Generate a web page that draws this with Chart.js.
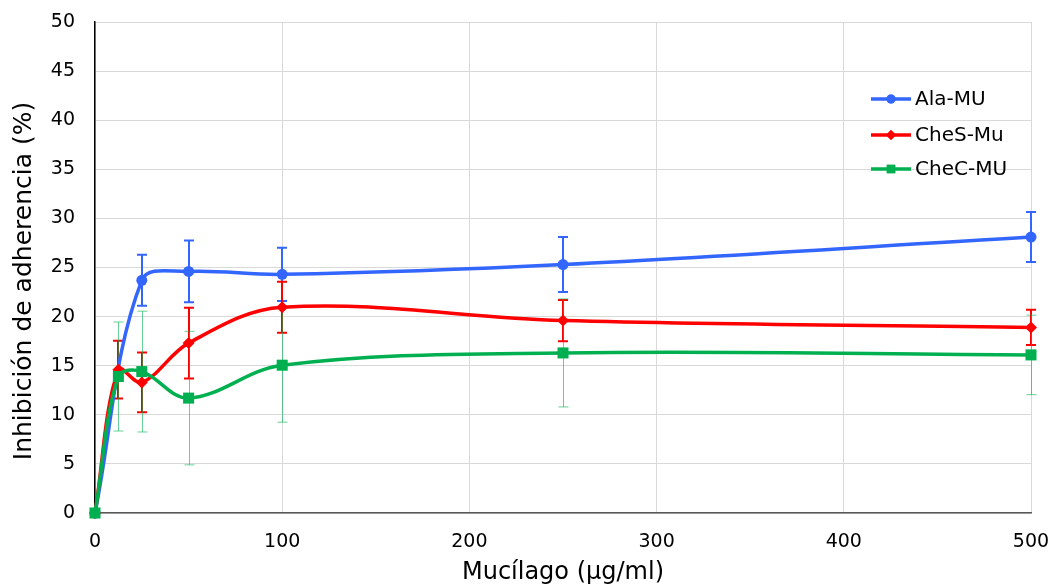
<!DOCTYPE html>
<html>
<head>
<meta charset="utf-8">
<script src="https://cdn.jsdelivr.net/npm/chart.js@4/dist/chart.umd.min.js"></script>
<style>
html,body{margin:0;padding:0;background:#fff;}
#wrap{width:1052px;height:587px;position:relative;}
</style>
</head>
<body>
<div id="wrap"><canvas id="c" width="1052" height="587"></canvas></div>
<script>
// ---- data ----
const seriesNames = ['Ala-MU', 'CheS-Mu', 'CheC-MU'];
const xAla = [0, 25, 50, 100, 250, 500];
const ala = [0, 23.7, 24.6, 24.3, 25.3, 28.1];
const alaErr = [0, 2.6, 3.15, 2.7, 2.8, 2.55];
const xChe = [0, 12.5, 25, 50, 100, 250, 500];
const ches = [0, 14.6, 13.3, 17.3, 20.95, 19.6, 18.9];
const chesErr = [0, 2.95, 3.05, 3.6, 2.6, 2.1, 1.8];
const chec = [0, 13.9, 14.4, 11.7, 15.05, 16.3, 16.1];
const checErr = [0, 5.55, 6.15, 6.8, 5.8, 5.5, 4.05];
const xTicks = [0, 100, 200, 300, 400, 500];
const yTicks = [0, 5, 10, 15, 20, 25, 30, 35, 40, 45, 50];
const xTitle = 'Mucílago (µg/ml)';
const yTitle = 'Inhibición de adherencia (%)';

const FONT = "'DejaVu Sans', Verdana, sans-serif";
const blue = '#3366FF', red = '#FF0000', green = '#00B050';

function pts(xs, ys) { return xs.map((x, i) => ({ x: x, y: ys[i] })); }

const errorBars = {
  id: 'errorBars',
  beforeDatasetsDraw(chart) {
    const ctx = chart.ctx, xs = chart.scales.x, ys = chart.scales.y;
    chart.data.datasets.forEach((ds) => {
      const e = ds.errors; if (!e) return;
      ctx.save();
      ctx.strokeStyle = ds.errColor;
      ctx.lineWidth = ds.errWidth;
      ds.data.forEach((p, i) => {
        if (!e[i]) return;
        const px = Math.round(xs.getPixelForValue(p.x)) + (ds.errWidth % 2 ? 0.5 : 0);
        const yt = ys.getPixelForValue(p.y + e[i]);
        const yb = ys.getPixelForValue(p.y - e[i]);
        const cw = 5;
        ctx.beginPath();
        ctx.moveTo(px, yt); ctx.lineTo(px, yb);
        ctx.moveTo(px - cw, yt); ctx.lineTo(px + cw, yt);
        ctx.moveTo(px - cw, yb); ctx.lineTo(px + cw, yb);
        ctx.stroke();
      });
      ctx.restore();
    });
  }
};

const yTitlePlugin = {
  id: 'yTitlePlugin',
  afterDraw(chart) {
    const ctx = chart.ctx;
    ctx.save();
    ctx.translate(24, 281);
    ctx.rotate(-Math.PI / 2);
    ctx.fillStyle = '#000';
    ctx.font = '25px ' + FONT;
    ctx.textAlign = 'center';
    ctx.textBaseline = 'middle';
    ctx.fillText(yTitle, 0, 0);
    ctx.restore();
  }
};

const customLegend = {
  id: 'customLegend',
  afterDraw(chart) {
    const ctx = chart.ctx;
    const rows = [99, 135, 169];
    chart.data.datasets.forEach((ds, i) => {
      const y = rows[i];
      ctx.save();
      ctx.strokeStyle = ds.borderColor;
      ctx.lineWidth = 3.5;
      ctx.beginPath(); ctx.moveTo(871, y); ctx.lineTo(911, y); ctx.stroke();
      ctx.fillStyle = ds.borderColor;
      Chart.helpers.drawPoint(ctx, { pointStyle: ds.pointStyle, radius: ds.legendRadius, borderWidth: 0, rotation: 0 }, 891, y);
      ctx.fill();
      ctx.fillStyle = '#000';
      ctx.font = '20px ' + FONT;
      ctx.textBaseline = 'middle';
      ctx.textAlign = 'left';
      ctx.fillText(ds.label, 915, y + 1);
      ctx.restore();
    });
  }
};

const common = { borderWidth: 3.5, tension: 0.36, clip: false, pointBorderWidth: 0 };

new Chart(document.getElementById('c'), {
  type: 'line',
  data: {
    datasets: [
      Object.assign({}, common, {
        label: seriesNames[0], data: pts(xAla, ala), errors: alaErr,
        borderColor: blue, backgroundColor: blue, pointBackgroundColor: blue,
        pointStyle: 'circle', pointRadius: 5.5, legendRadius: 4.5,
        errColor: blue, errWidth: 2, order: 3
      }),
      Object.assign({}, common, {
        label: seriesNames[1], data: pts(xChe, ches), errors: chesErr,
        borderColor: red, backgroundColor: red, pointBackgroundColor: red,
        pointStyle: 'rectRot', pointRadius: 6, legendRadius: 5,
        errColor: red, errWidth: 2, order: 2
      }),
      Object.assign({}, common, {
        label: seriesNames[2], data: pts(xChe, chec), errors: checErr,
        borderColor: green, backgroundColor: green, pointBackgroundColor: green,
        pointStyle: 'rect', pointRadius: 7.8, legendRadius: 6,
        errColor: 'rgba(0,176,80,0.6)', errWidth: 1, order: 1
      })
    ]
  },
  options: {
    responsive: false,
    animation: false,
    events: [],
    layout: { padding: { top: 22, right: 21, left: 0, bottom: 0 } },
    plugins: { legend: { display: false }, tooltip: { enabled: false } },
    scales: {
      x: {
        type: 'linear', min: 0, max: 500,
        afterFit: (s) => { s.height = 74; s.paddingLeft = 0; s.paddingRight = 0; },
        afterBuildTicks: (s) => { s.ticks = xTicks.map(v => ({ value: v })); },
        grid: { color: '#d9d9d9', lineWidth: 1, drawTicks: false },
        border: { color: '#595959', width: 1.5 },
        ticks: { color: '#000', font: { family: FONT, size: 19 }, padding: 18 },
        title: { display: true, text: xTitle, color: '#000', font: { family: FONT, size: 24 }, padding: { top: 0, bottom: 0 } }
      },
      y: {
        type: 'linear', min: 0, max: 50,
        afterFit: (s) => { s.width = 95; s.paddingTop = 0; s.paddingBottom = 0; },
        afterBuildTicks: (s) => { s.ticks = yTicks.map(v => ({ value: v })); },
        grid: { color: '#d9d9d9', lineWidth: 1, drawTicks: false },
        border: { color: '#000', width: 1.5 },
        ticks: { color: '#000', font: { family: FONT, size: 19 }, padding: 20 },
        title: { display: false }
      }
    }
  },
  plugins: [errorBars, customLegend, yTitlePlugin]
});
</script>
</body>
</html>
